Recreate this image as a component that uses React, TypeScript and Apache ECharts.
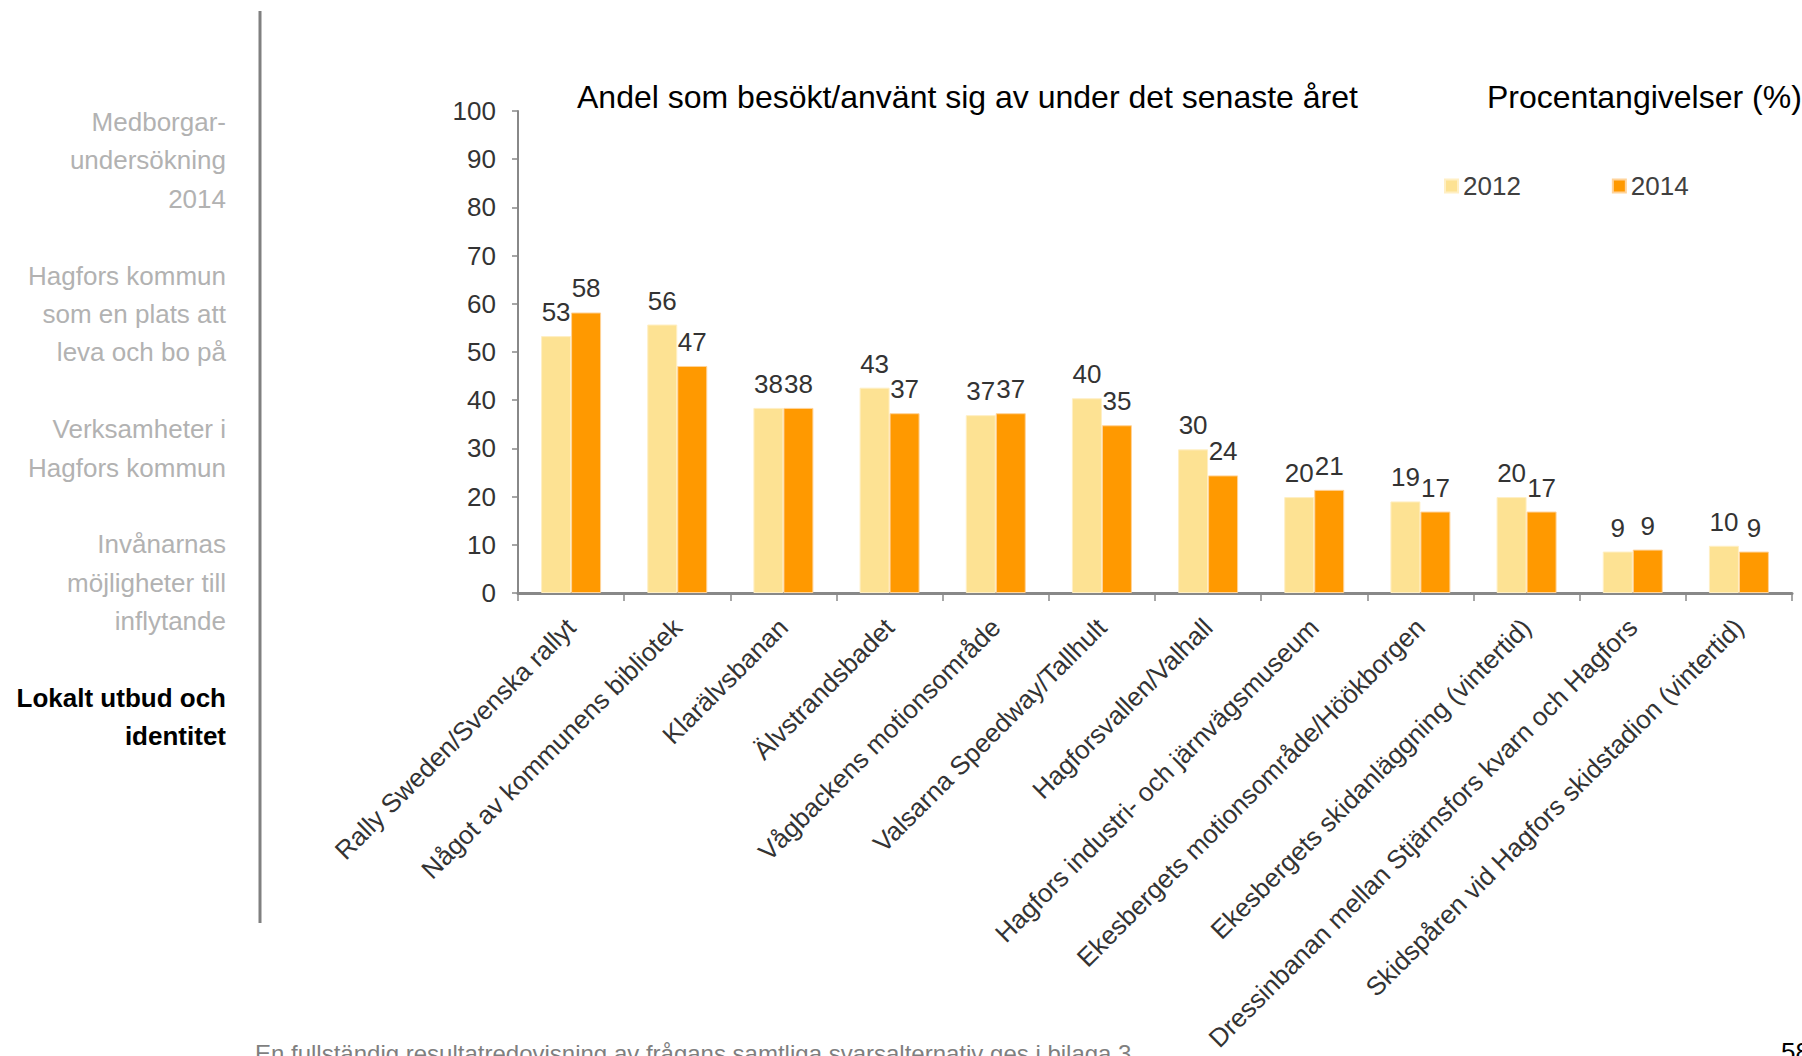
import React, { useEffect, useRef } from "react";
import * as echarts from "echarts";

const categories = [
  "Rally Sweden/Svenska rallyt",
  "Något av kommunens bibliotek",
  "Klarälvsbanan",
  "Älvstrandsbadet",
  "Vågbackens motionsområde",
  "Valsarna Speedway/Tallhult",
  "Hagforsvallen/Valhall",
  "Hagfors industri- och järnvägsmuseum",
  "Ekesbergets motionsområde/Höökborgen",
  "Ekesbergets skidanläggning (vintertid)",
  "Dressinbanan mellan Stjärnsfors kvarn och Hagfors",
  "Skidspåren vid Hagfors skidstadion (vintertid)",
];

const seriesNames = ["2012", "2014"];
const values2012 = [53.3, 55.7, 38.4, 42.6, 36.9, 40.4, 29.8, 19.9, 19.0, 19.9, 8.6, 9.8];
const values2014 = [58.2, 47.1, 38.4, 37.3, 37.3, 34.8, 24.4, 21.4, 16.9, 16.9, 9.0, 8.6];

const navLines = [
  "Medborgar-",
  "undersökning",
  "2014",
  "",
  "Hagfors kommun",
  "som en plats att",
  "leva och bo på",
  "",
  "Verksamheter i",
  "Hagfors kommun",
  "",
  "Invånarnas",
  "möjligheter till",
  "inflytande",
  "",
];
const navActiveLines = ["Lokalt utbud och", "identitet"];

const chartTitle = "Andel som besökt/använt sig av under det senaste året";
const unitText = "Procentangivelser (%)";
const footerText =
  "En fullständig resultatredovisning av frågans samtliga svarsalternativ ges i bilaga 3";
const pageNumber = "58";

const FONT = "'Liberation Sans', Arial, sans-serif";

export default function App() {
  const ref = useRef<HTMLDivElement>(null);

  useEffect(() => {
    if (!ref.current) return;
    const chart = echarts.init(ref.current, undefined, { renderer: "svg" });

    const navTop = 122;
    const navStep = 38.4;
    const navGraphics: any[] = [];
    navLines.forEach((t, i) => {
      if (!t) return;
      navGraphics.push({
        type: "text",
        x: 226,
        y: navTop + i * navStep,
        style: {
          text: t,
          fill: "#b2b2b2",
          font: `26px ${FONT}`,
          textAlign: "right",
          textVerticalAlign: "middle",
        },
      });
    });
    navActiveLines.forEach((t, j) => {
      navGraphics.push({
        type: "text",
        x: 226,
        y: navTop + (navLines.length + j) * navStep,
        style: {
          text: t,
          fill: "#000000",
          font: `bold 26px ${FONT}`,
          textAlign: "right",
          textVerticalAlign: "middle",
        },
      });
    });

    const labelFmt = (p: any) => String(Math.round(p.value));

    chart.setOption({
      animation: false,
      backgroundColor: "#ffffff",
      textStyle: { fontFamily: FONT },
      grid: { left: 518, right: 10, top: 111, bottom: 463, containLabel: false },
      legend: {
        data: seriesNames,
        left: 1444,
        top: 173,
        icon: "rect",
        itemWidth: 13,
        itemHeight: 13,
        itemGap: 91,
        padding: 0,
        textStyle: { fontSize: 26, color: "#404040", fontFamily: FONT },
      },
      xAxis: {
        type: "category",
        data: categories,
        axisLine: { show: true, lineStyle: { color: "#888888", width: 3 } },
        axisTick: { show: true, length: 8, lineStyle: { color: "#888888", width: 1.5 } },
        axisLabel: {
          interval: 0,
          rotate: 45,
          fontSize: 26,
          color: "#333333",
          margin: 30,
          fontFamily: FONT,
        },
      },
      yAxis: {
        type: "value",
        min: 0,
        max: 100,
        interval: 10,
        axisLine: { show: true, lineStyle: { color: "#888888", width: 2 } },
        axisTick: { show: true, length: 6, lineStyle: { color: "#888888", width: 1.5 } },
        splitLine: { show: false },
        axisLabel: { fontSize: 26, color: "#333333", margin: 22, fontFamily: FONT },
      },
      series: [
        {
          name: seriesNames[0],
          type: "bar",
          data: values2012,
          barWidth: 30,
          barGap: "0%",
          itemStyle: { color: "#FDE293", borderColor: "#FFEFC4", borderWidth: 1 },
          label: {
            show: true,
            position: "top",
            distance: 11,
            fontSize: 26,
            color: "#333333",
            fontFamily: FONT,
            formatter: labelFmt,
          },
        },
        {
          name: seriesNames[1],
          type: "bar",
          data: values2014,
          barWidth: 30,
          barGap: "0%",
          itemStyle: { color: "#FF9900", borderColor: "#FFD39A", borderWidth: 1 },
          label: {
            show: true,
            position: "top",
            distance: 11,
            fontSize: 26,
            color: "#333333",
            fontFamily: FONT,
            formatter: labelFmt,
          },
        },
      ],
      graphic: [
        {
          type: "line",
          shape: { x1: 260, y1: 11, x2: 260, y2: 923 },
          style: { stroke: "#808080", lineWidth: 3 },
        },
        {
          type: "text",
          x: 577,
          y: 97,
          style: {
            text: chartTitle,
            fill: "#000000",
            font: `32px ${FONT}`,
            textVerticalAlign: "middle",
          },
        },
        {
          type: "text",
          x: 1487,
          y: 97,
          style: {
            text: unitText,
            fill: "#000000",
            font: `32px ${FONT}`,
            textVerticalAlign: "middle",
          },
        },
        ...navGraphics,
        {
          type: "text",
          x: 255,
          y: 1041,
          style: {
            text: footerText,
            fill: "#7f7f7f",
            font: `24px ${FONT}`,
            textVerticalAlign: "top",
          },
        },
        {
          type: "text",
          x: 1781,
          y: 1039,
          style: {
            text: pageNumber,
            fill: "#000000",
            font: `26px ${FONT}`,
            textVerticalAlign: "top",
          },
        },
      ],
    });

    return () => chart.dispose();
  }, []);

  return (
    <div
      ref={ref}
      style={{ position: "fixed", left: 0, top: 0, width: 1802, height: 1056, background: "#fff" }}
    />
  );
}
